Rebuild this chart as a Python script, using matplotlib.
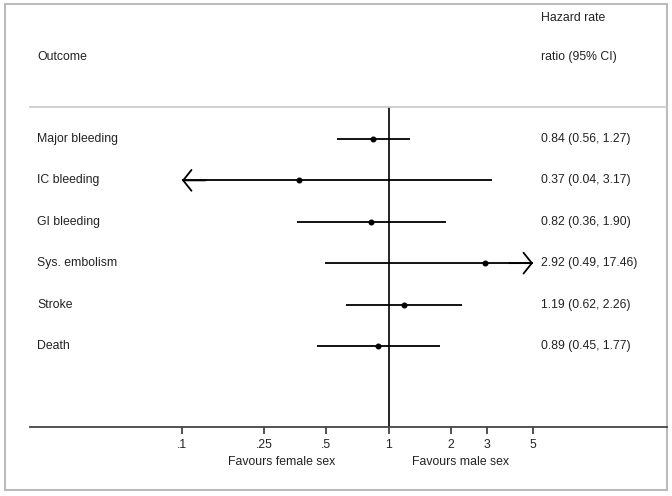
import numpy as np
import matplotlib
matplotlib.use("Agg")
import matplotlib.pyplot as plt
from matplotlib.patches import Rectangle
from matplotlib.lines import Line2D
from matplotlib.transforms import blended_transform_factory

plt.rcParams['font.family'] = ['Liberation Sans', 'DejaVu Sans']

outcomes = ["Major bleeding", "IC bleeding", "GI bleeding", "Sys. embolism", "Stroke", "Death"]
hr = [0.84, 0.37, 0.82, 2.92, 1.19, 0.89]
lower = [0.56, 0.04, 0.36, 0.49, 0.62, 0.45]
upper = [1.27, 3.17, 1.90, 17.46, 2.26, 1.77]
ticks = [0.1, 0.25, 0.5, 1, 2, 3, 5]
tick_labels = [".1", ".25", ".5", "1", "2", "3", "5"]

W, H = 672, 496
fig = plt.figure(figsize=(W / 100, H / 100), dpi=100)

def fx(px):
    return px / W

def fy(py):
    return 1 - py / H

FS = 8.8

# plot area: x from .1 (px 182) to 5 (px 533), y from px 107 to 427
ax = fig.add_axes([fx(182), fy(427), fx(533) - fx(182), fy(107) - fy(427)])
ax.set_xscale("log")
xmin, xmax = ticks[0], ticks[-1]
ax.set_xlim(xmin, xmax)
n = len(outcomes)
ax.set_ylim(n + 1.96, 0.227)
for s in ax.spines.values():
    s.set_visible(False)
ax.set_yticks([])
ax.set_xticks(ticks)
ax.set_xticklabels(tick_labels, fontsize=FS, color="#222222")
ax.xaxis.set_minor_locator(plt.NullLocator())
ax.tick_params(axis="x", direction="out", length=5, width=1.2, color="#333333", pad=4)

ys = np.arange(1, n + 1)
lo_c = np.clip(lower, xmin, xmax)
hi_c = np.clip(upper, xmin, xmax)
ax.hlines(ys, lo_c, hi_c, color="black", lw=1.3)
ax.plot(hr, ys, "o", color="black", ms=3.3)
ax.axvline(1, color="black", lw=1.2)

# truncated CIs get an open arrow head
arrow = dict(arrowstyle="->,head_length=0.6,head_width=0.75", lw=1.3, color="black",
             shrinkA=0, shrinkB=0, mutation_scale=10)
for y, lo, hi in zip(ys, lower, upper):
    if lo < xmin:
        ax.annotate("", xy=(xmin, y), xytext=(xmin * 1.3, y), arrowprops=arrow)
    if hi > xmax:
        ax.annotate("", xy=(xmax, y), xytext=(xmax / 1.3, y), arrowprops=arrow)

# frame and rule lines
fig.add_artist(Rectangle((fx(5), fy(490)), fx(667) - fx(5), fy(4) - fy(490),
                         transform=fig.transFigure, fill=False, ec="#bbbbbb", lw=1.5))
fig.add_artist(Line2D([fx(30), fx(667)], [fy(107), fy(107)], transform=fig.transFigure,
                      color="#c8c8c8", lw=1.2))
fig.add_artist(Line2D([fx(30), fx(667)], [fy(427), fy(427)], transform=fig.transFigure,
                      color="#444444", lw=1.3))

txt = dict(fontsize=FS, color="#222222", va="center")
fig.text(fx(37), fy(57), "Outcome", **txt)
fig.text(fx(541), fy(18), "Hazard rate", **txt)
fig.text(fx(541), fy(57), "ratio (95% CI)", **txt)

row_tr = blended_transform_factory(fig.transFigure, ax.transData)
for y, name, h, lo, hi in zip(ys, outcomes, hr, lower, upper):
    ax.text(fx(37), y, name, transform=row_tr, ha="left", **txt)
    ax.text(fx(541), y, f"{h:.2f} ({lo:.2f}, {hi:.2f})", transform=row_tr, ha="left", **txt)

fig.text(fx(282), fy(462), "Favours female sex", ha="center", **txt)
fig.text(fx(460), fy(462), "Favours male sex", ha="center", **txt)

fig.savefig("out.png", dpi=100)
